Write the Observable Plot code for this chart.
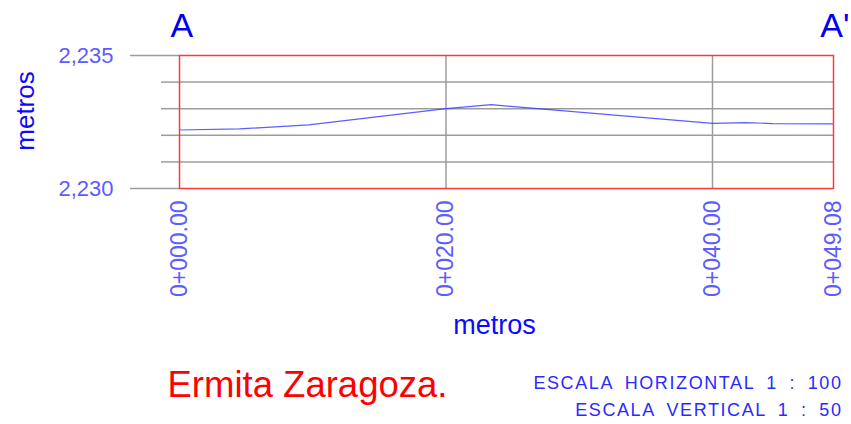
<!DOCTYPE html>
<html>
<head>
<meta charset="utf-8">
<script src="https://cdn.jsdelivr.net/npm/d3@7"></script>
<script src="https://cdn.jsdelivr.net/npm/@observablehq/plot@0.6"></script>
<style>
  html, body { margin: 0; padding: 0; background: #fff; }
  #chart svg { display: block; }
</style>
</head>
<body>
<div id="chart"></div>
<script>
// Profile data (station in metres, elevation in metres)
const stations   = [0, 4.5, 9.7, 20, 23.4, 40, 42.5, 44.5, 49.08];
const elevations = [2232.20, 2232.24, 2232.39, 2233.00, 2233.15, 2232.45, 2232.48, 2232.44, 2232.43];

// Axis ticks
const xTicks = [0, 20, 40, 49.08];
const yLabelTicks = [2230, 2235];
const yGridTicks = [2231, 2232, 2233, 2234];
const xGridTicks = [20, 40];

// Texts
const startLabel = "A";
const endLabel = "A'";
const axisLabel = "metros";
const titleText = "Ermita Zaragoza.";
const scaleTexts = ["ESCALA HORIZONTAL 1 : 100", "ESCALA VERTICAL 1 : 50"];

const profile = stations.map((s, i) => ({station: s, elevation: elevations[i]}));

const grey = "#9c9c9c";
const tickBlue = "#5c5cff";
const blue = "#0a0aff";

const chart = Plot.plot({
  width: 851,
  height: 424,
  marginLeft: 179,
  marginRight: 18,
  marginTop: 55,
  marginBottom: 236,
  style: {fontFamily: "'Liberation Sans', Arial, sans-serif", background: "#fff"},
  x: {domain: [0, 49.08]},
  y: {domain: [2230, 2235]},
  marks: [
    Plot.gridY(yGridTicks, {stroke: grey, strokeOpacity: 1, strokeWidth: 1.5}),
    Plot.gridX(xGridTicks, {stroke: grey, strokeOpacity: 1, strokeWidth: 1.5}),
    Plot.axisY(yGridTicks, {tickSize: 18, tickFormat: () => "", stroke: grey, strokeWidth: 1.5, label: null}),
    Plot.axisY(yLabelTicks, {
      tickSize: 49, tickPadding: 17, tickFormat: d3.format(","),
      stroke: grey, strokeWidth: 1.5, fill: tickBlue, fontSize: 22, label: null
    }),
    Plot.axisX(xTicks, {
      tickSize: 0, tickPadding: 12, tickRotate: -90,
      tickFormat: d => "0+" + d.toFixed(2).padStart(6, "0"),
      fill: tickBlue, fontSize: 23, label: null
    }),
    Plot.line(profile, {x: "station", y: "elevation", stroke: "#3333ff", strokeWidth: 1.2, strokeOpacity: 0.8}),
    Plot.frame({stroke: "#ff3838", strokeWidth: 1.5}),
    // A / A'
    Plot.text([startLabel], {text: d => d, frameAnchor: "top-left", textAnchor: "start", lineAnchor: "middle",
      dx: -9, dy: -29, fontSize: 34, fill: "#0000ee"}),
    Plot.text([endLabel], {text: d => d, frameAnchor: "top-right", textAnchor: "end", lineAnchor: "middle",
      dx: 16, dy: -29, fontSize: 34, fill: "#0000ee"}),
    // axis labels
    Plot.text([axisLabel], {text: d => d, frameAnchor: "left", rotate: -90, textAnchor: "middle", lineAnchor: "middle",
      dx: -154, dy: -11, fontSize: 26, fill: blue}),
    Plot.text([axisLabel], {text: d => d, frameAnchor: "bottom", textAnchor: "middle", lineAnchor: "middle",
      dx: -12, dy: 137, fontSize: 27, fill: blue}),
    // title
    Plot.text([titleText], {text: d => d, frameAnchor: "bottom-left", textAnchor: "start", lineAnchor: "middle",
      dx: -12, dy: 197, fontSize: 36.5, fill: "#ff0000"}),
    // scale notes
    Plot.text([scaleTexts[0]], {text: d => d, frameAnchor: "bottom-right", textAnchor: "end", lineAnchor: "middle",
      dx: 9, dy: 195, fontSize: 18, fill: "#2a2aff", className: "escala"}),
    Plot.text([scaleTexts[1]], {text: d => d, frameAnchor: "bottom-right", textAnchor: "end", lineAnchor: "middle",
      dx: 9, dy: 222, fontSize: 18, fill: "#2a2aff", className: "escala"})
  ]
});

d3.select(chart).selectAll(".escala text")
  .attr("letter-spacing", "1.6px")
  .attr("word-spacing", "5px");
document.getElementById("chart").appendChild(chart);
</script>
</body>
</html>
